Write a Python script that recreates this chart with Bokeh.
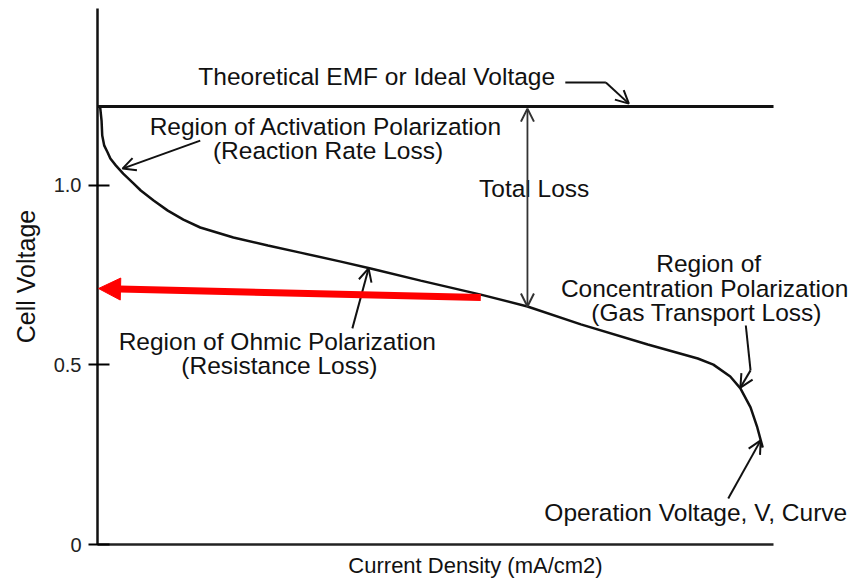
from bokeh.plotting import figure
from bokeh.models import (Range1d, FixedTicker, ColumnDataSource, Arrow, OpenHead,
                          NormalHead)
from bokeh.core.properties import value
from bokeh.embed import file_html
from bokeh.resources import INLINE

# ---------------- data ----------------
# operation voltage curve (current density in arbitrary mA/cm2 units, cell voltage in V)
current = [4, 6, 7, 10, 15, 19, 27, 38, 52, 64, 83, 104, 127, 152, 201, 252, 300,
           360, 404, 478, 567, 636, 715, 814, 888, 911, 936, 951, 966, 976, 984]
voltage = [1.217, 1.181, 1.139, 1.111, 1.092, 1.075, 1.056, 1.033, 1.008, 0.986,
           0.958, 0.930, 0.905, 0.883, 0.855, 0.833, 0.813, 0.788, 0.769, 0.735,
           0.696, 0.663, 0.613, 0.557, 0.518, 0.501, 0.468, 0.435, 0.382, 0.326, 0.270]

ideal_voltage = 1.22
ideal_x = [0, 1000]

y_ticks = [0, 0.5, 1.0]
y_tick_labels = ["0", "0.5", "1.0"]

x_axis_extent = [0, 1000]

# annotation texts
label_texts = ["Theoretical EMF or Ideal Voltage",
               "Region of Activation Polarization", "(Reaction Rate Loss)",
               "Total Loss",
               "Region of Ohmic Polarization", "(Resistance Loss)",
               "Region of", "Concentration Polarization", "(Gas Transport Loss)",
               "Operation Voltage, V, Curve"]
label_x = [413, 338, 341, 646, 266, 269, 904, 898, 901, 885]
label_y = [1.304, 1.164, 1.097, 0.992, 0.565, 0.499, 0.783, 0.713, 0.646, 0.089]

# leader lines without heads
lead_x0 = [692, 959]
lead_y0 = [1.287, 0.610]
lead_x1 = [752, 966]
lead_y1 = [1.287, 0.485]

# single-headed pointer arrows
arr_x0 = [752, 152, 377, 966, 933]
arr_y0 = [1.287, 1.125, 0.602, 0.485, 0.128]
arr_x1 = [786, 37, 401, 951, 981]
arr_y1 = [1.228, 1.047, 0.769, 0.437, 0.290]

# double-headed "Total Loss" arrow
loss_x = [636, 636]
loss_y = [0.663, 1.214]

# red highlight arrow
red_x = [567, 1.5]
red_y = [0.688, 0.713]

# ---------------- figure ----------------
FONT = value("Liberation Sans")

p = figure(width=853, height=587, x_range=Range1d(0, 1118.3), y_range=Range1d(0, 1.493),
           output_backend="svg", toolbar_location=None,
           min_border_left=97, min_border_right=0, min_border_top=8, min_border_bottom=43)
p.outline_line_color = None
p.grid.visible = False
p.background_fill_color = "white"

# axes
p.xaxis.ticker = FixedTicker(ticks=[])
p.xaxis.bounds = tuple(x_axis_extent)
p.xaxis.major_tick_out = 0
p.xaxis.major_tick_in = 0
p.xaxis.minor_tick_out = 0
p.xaxis.axis_label = "Current Density (mA/cm2)"
p.xaxis.axis_label_standoff = 8
p.xaxis.axis_label_text_line_height = 1.0
p.xaxis.axis_label_text_font = "Liberation Sans"
p.xaxis.axis_label_text_font_size = "22px"
p.xaxis.axis_label_text_font_style = "normal"
p.xaxis.axis_label_text_color = "#111111"
p.xaxis.axis_line_width = 2.5
p.xaxis.axis_line_color = "#222222"

p.yaxis.ticker = FixedTicker(ticks=y_ticks)
p.yaxis.major_label_overrides = dict(zip(y_ticks, y_tick_labels))
p.yaxis.minor_tick_out = 0
p.yaxis.minor_tick_in = 0
p.yaxis.major_tick_in = 12
p.yaxis.major_tick_out = 9
p.yaxis.major_tick_line_width = 2
p.yaxis.major_label_standoff = 7
p.yaxis.major_label_text_font = "Liberation Sans"
p.yaxis.major_label_text_font_size = "20px"
p.yaxis.major_label_text_color = "#222222"
p.yaxis.axis_label = "Cell Voltage"
p.yaxis.axis_label_standoff = 11
p.yaxis.axis_label_text_font = "Liberation Sans"
p.yaxis.axis_label_text_font_size = "25px"
p.yaxis.axis_label_text_font_style = "normal"
p.yaxis.axis_label_text_color = "#111111"
p.yaxis.axis_line_width = 2.5
p.yaxis.axis_line_color = "#111111"

# ideal voltage line
p.line(ideal_x, [ideal_voltage, ideal_voltage], line_color="#111111", line_width=3)

# operation curve
p.line(current, voltage, line_color="#111111", line_width=2.5)

# leaders
p.segment(lead_x0, lead_y0, lead_x1, lead_y1, line_color="#111111", line_width=2)

arr_src = ColumnDataSource(dict(x0=arr_x0, y0=arr_y0, x1=arr_x1, y1=arr_y1))
p.add_layout(Arrow(source=arr_src, x_start="x0", y_start="y0", x_end="x1", y_end="y1",
                   line_color="#111111", line_width=2,
                   end=OpenHead(size=13, line_width=2, line_color="#111111")))

p.add_layout(Arrow(x_start=loss_x[0], y_start=loss_y[0], x_end=loss_x[1], y_end=loss_y[1],
                   line_color="#333333", line_width=1.8,
                   start=OpenHead(size=13, line_width=2, line_color="#333333"),
                   end=OpenHead(size=13, line_width=2, line_color="#333333")))

# red arrow
p.add_layout(Arrow(x_start=red_x[0], y_start=red_y[0], x_end=red_x[1], y_end=red_y[1],
                   line_color="#ff0000", line_width=7,
                   end=NormalHead(size=22, fill_color="#ff0000", line_color="#ff0000",
                                  line_width=1)))

# annotation texts
txt_src = ColumnDataSource(dict(x=label_x, y=label_y, t=label_texts))
p.text(x="x", y="y", text="t", source=txt_src, text_align="center",
       text_baseline="middle", text_font=FONT, text_font_size="24.5px",
       text_color="#111111")

open("out.html", "w").write(file_html(p, INLINE))
